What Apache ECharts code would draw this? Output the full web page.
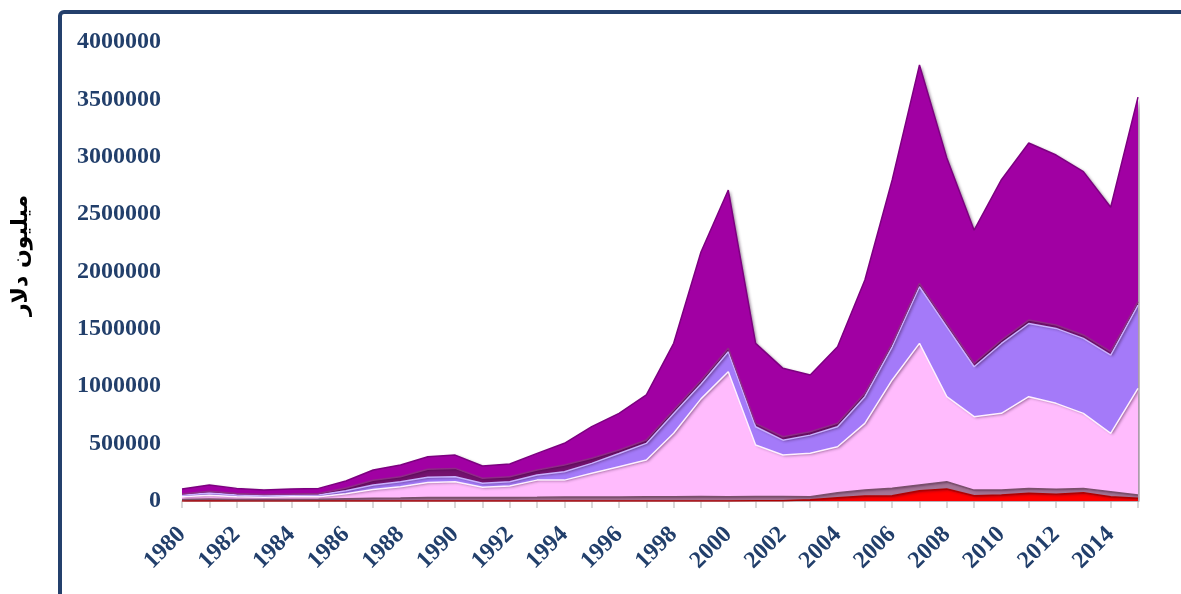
<!DOCTYPE html>
<html>
<head>
<meta charset="utf-8">
<style>
  html, body { margin: 0; padding: 0; background: #fff; }
  #area-pic { width: 1181px; height: 594px; }
</style>
<script src="https://cdn.jsdelivr.net/npm/echarts@6/dist/echarts.min.js"></script>
</head>
<body>
<div id="area-pic"></div>
<script>
// years 1980 - 2015
const years = ['1980', '1981', '1982', '1983', '1984', '1985', '1986', '1987', '1988', '1989',
  '1990', '1991', '1992', '1993', '1994', '1995', '1996', '1997', '1998', '1999',
  '2000', '2001', '2002', '2003', '2004', '2005', '2006', '2007', '2008', '2009',
  '2010', '2011', '2012', '2013', '2014', '2015']

// layers, bottom to top (million dollars)
const redVals = [0, 0, 0, 0, 0, 0, 0, 0, 0, 0,
  0, 0, 0, 0, 0, 0, 0, 1000, 1000, 1000,
  1000, 2000, 3000, 10000, 29000, 44000, 46000, 90000, 105000, 45000,
  52000, 67000, 58000, 72000, 37000, 23000]
const mauveVals = [14000, 17000, 14000, 13000, 14000, 15000, 20000, 25000, 27000, 30000,
  30000, 30000, 30000, 32000, 35000, 35000, 35000, 36000, 37000, 39000,
  37000, 38000, 37000, 27000, 43000, 52000, 65000, 49000, 63000, 50000,
  44000, 43000, 44000, 38000, 44000, 29000]
const pinkVals = [22000, 33000, 24000, 20000, 22000, 23000, 44000, 75000, 97000, 132000,
  137000, 89000, 101000, 150000, 147000, 206000, 264000, 320000, 552000, 850000,
  1089000, 448000, 361000, 379000, 401000, 581000, 944000, 1235000, 741000, 640000,
  668000, 799000, 749000, 654000, 509000, 930000]
const lavenderVals = [14000, 20000, 15000, 13000, 14000, 15000, 25000, 40000, 44000, 44000,
  44000, 35000, 37000, 44000, 73000, 87000, 115000, 145000, 173000, 130000,
  174000, 159000, 129000, 158000, 174000, 232000, 289000, 493000, 609000, 435000,
  609000, 638000, 653000, 653000, 681000, 725000]
const darkVals = [10000, 15000, 12000, 10000, 10000, 12000, 25000, 40000, 44000, 70000,
  73000, 44000, 44000, 44000, 58000, 44000, 30000, 30000, 30000, 30000,
  30000, 30000, 30000, 30000, 30000, 30000, 30000, 30000, 30000, 30000,
  30000, 30000, 30000, 30000, 30000, 30000]
const magentaVals = [45000, 55000, 45000, 40000, 45000, 45000, 60000, 90000, 102000, 110000,
  116000, 107000, 110000, 145000, 190000, 276000, 320000, 392000, 581000, 1120000,
  1379000, 697000, 596000, 494000, 668000, 987000, 1423000, 1903000, 1442000, 1160000,
  1397000, 1543000, 1481000, 1423000, 1259000, 1783000]

const layers = [
  { name: 'red', data: redVals, color: '#ff0000', edge: '#b00000' },
  { name: 'mauve', data: mauveVals, color: '#a57596', edge: '#7a4f6c' },
  { name: 'pink', data: pinkVals, color: '#ffbbfd', edge: '#fff0ff' },
  { name: 'lavender', data: lavenderVals, color: '#a47af9', edge: '#c9b0ff' },
  { name: 'dark', data: darkVals, color: '#74126f', edge: '#8e2a86' },
  { name: 'magenta', data: magentaVals, color: '#a100a3', edge: '#7d0080' }
]

const axisColor = '#223f6b'
const myChart = echarts.init(document.getElementById('area-pic'))

const option = {
  animation: false,
  grid: {
    left: 182,
    right: 43,
    top: 42,
    bottom: 93
  },
  graphic: [
    {
      type: 'rect',
      shape: { x: 60, y: 12, width: 1500, height: 900, r: 4 },
      style: { fill: 'none', stroke: '#24406c', lineWidth: 4 },
      z: 100
    }
  ],
  xAxis: {
    type: 'category',
    boundaryGap: false,
    data: years,
    axisLine: {
      lineStyle: { color: '#d9d9d9', width: 1.5 }
    },
    axisTick: {
      show: true,
      interval: 0,
      length: 7,
      lineStyle: { color: '#d9d9d9', width: 2 }
    },
    axisLabel: {
      interval: 1,
      rotate: 45,
      margin: 30,
      color: axisColor,
      fontFamily: 'Liberation Serif',
      fontWeight: 'bold',
      fontSize: 24
    },
    splitLine: { show: false }
  },
  yAxis: {
    type: 'value',
    min: 0,
    max: 4000000,
    interval: 500000,
    name: 'میلیون دلار',
    nameLocation: 'middle',
    nameGap: 150,
    nameTextStyle: {
      color: '#000',
      fontFamily: 'DejaVu Sans',
      fontWeight: 'bold',
      fontSize: 22,
      padding: [0, 0, 0, 32]
    },
    axisLine: { show: false },
    axisTick: { show: false },
    axisLabel: {
      margin: 21,
      color: axisColor,
      fontFamily: 'Liberation Serif',
      fontWeight: 'bold',
      fontSize: 24,
      formatter: v => String(v)
    },
    splitLine: { show: false }
  },
  series: layers.map(item => ({
    name: item.name,
    type: 'line',
    stack: 'total',
    symbol: 'none',
    data: item.data,
    lineStyle: { width: 1.5, color: item.edge },
    areaStyle: {
      color: item.color,
      opacity: 1,
      shadowColor: 'rgba(40, 0, 40, 0.45)',
      shadowBlur: 3,
      shadowOffsetX: 2,
      shadowOffsetY: 1
    }
  }))
}

myChart.setOption(option)
</script>
</body>
</html>
